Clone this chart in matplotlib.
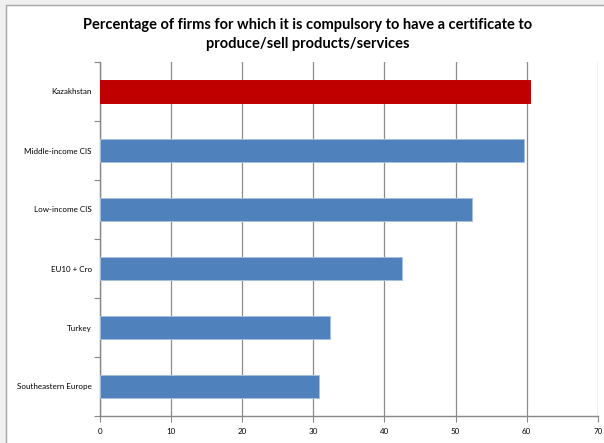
import matplotlib
matplotlib.use("Agg")
import matplotlib.pyplot as plt
from matplotlib.patches import Rectangle

# share of firms needing a certificate, top to bottom as shown
regions = ["Kazakhstan", "Middle-income CIS", "Low-income CIS",
           "EU10 + Cro", "Turkey", "Southeastern Europe"]
shares = [60.5, 59.6, 52.3, 42.5, 32.4, 30.8]
bar_colors = ["#C00000", "#4F81BD", "#4F81BD", "#4F81BD", "#4F81BD", "#4F81BD"]
x_ticks = [0, 10, 20, 30, 40, 50, 60, 70]

plt.rcParams["font.family"] = ["Lato", "DejaVu Sans"]

fig = plt.figure(figsize=(6.04, 4.43), dpi=100)
fig.patch.set_facecolor("#F0F0F0")

# white chart area with a thin grey frame, kept behind the axes
frame = Rectangle((6 / 604, -0.05), 1.0, 1 - 5 / 443 + 0.05,
                  transform=fig.transFigure, facecolor="white",
                  edgecolor="#A6A6A6", linewidth=1.0, zorder=-5)
fig.patches.append(frame)

ax = fig.add_axes([100 / 604, 1 - 416 / 443, 497.7 / 604, 354 / 443])
ax.set_facecolor("none")
ax.set_zorder(2)

ypos = list(range(len(regions)))
ax.barh(ypos, shares, height=0.4, color=bar_colors,
        edgecolor=["#C00000"] + ["#A7C0DE"] * 5, linewidth=0.7, zorder=3)

ax.set_xlim(0, 70)
ax.set_ylim(len(regions) - 0.5, -0.5)
ax.set_xticks(x_ticks)
ax.set_xticklabels([str(t) for t in x_ticks], fontsize=5.8)

ax.set_yticks(ypos)
ax.set_yticklabels(regions, fontsize=5.8)
ax.tick_params(axis="y", length=0, pad=6)
ax.set_yticks([i - 0.5 for i in range(len(regions) + 1)], minor=True)
ax.tick_params(axis="y", which="minor", length=4, color="#878787", width=0.8)
ax.tick_params(axis="x", length=4, color="#878787", width=0.8, pad=5)

ax.grid(axis="x", color="#8C8C8C", linewidth=0.9, zorder=1)
ax.set_axisbelow(True)
for side in ["top", "right"]:
    ax.spines[side].set_visible(False)
for side in ["left", "bottom"]:
    ax.spines[side].set_color("#878787")
    ax.spines[side].set_linewidth(1.0)

fig.text(308 / 604, 1 - 25 / 443,
         "Percentage of firms for which it is compulsory to have a certificate to",
         ha="center", va="center", fontsize=10.5, fontweight="bold")
fig.text(308 / 604, 1 - 44 / 443, "produce/sell products/services",
         ha="center", va="center", fontsize=10.5, fontweight="bold")

fig.savefig("out.png", dpi=100, facecolor=fig.get_facecolor())
